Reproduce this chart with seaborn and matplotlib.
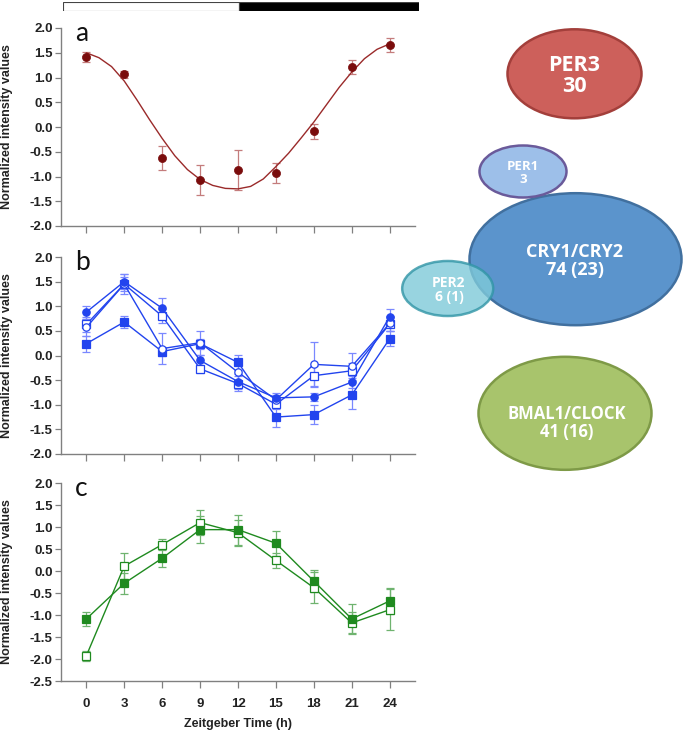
import matplotlib
matplotlib.use('Agg')
import matplotlib.pyplot as plt
import seaborn as sns
from matplotlib.patches import Ellipse

# Zeitgeber time points
zt = [0, 3, 6, 9, 12, 15, 18, 21, 24]

# panel a: PER3
per3_mean = [1.42, 1.07, -0.63, -1.07, -0.87, -0.93, -0.09, 1.22, 1.65]
per3_err = [0.10, 0.07, 0.24, 0.30, 0.40, 0.20, 0.16, 0.14, 0.14]
# fitted curve, hour by hour
fit_t = list(range(0, 25))
fit_y = [1.50, 1.40, 1.22, 0.93, 0.55, 0.15, -0.23, -0.58, -0.86, -1.06, -1.18, -1.24,
         -1.25, -1.20, -1.05, -0.80, -0.53, -0.22, 0.10, 0.45, 0.80, 1.11, 1.38, 1.57, 1.68]

# panel b: CRY1/CRY2 cluster
cry_fc = [0.88, 1.50, 0.96, -0.10, -0.53, -0.86, -0.84, -0.54, 0.79]
cry_fc_err = [0.13, 0.15, 0.20, 0.12, 0.15, 0.10, 0.08, 0.12, 0.15]
cry_oc = [0.57, 1.45, 0.14, 0.26, -0.34, -0.90, -0.18, -0.22, 0.65]
cry_oc_err = [0.18, 0.20, 0.31, 0.24, 0.20, 0.10, 0.45, 0.28, 0.15]
cry_os = [0.63, 1.45, 0.80, -0.27, -0.57, -0.99, -0.41, -0.31, 0.64]
cry_os_err = [0.15, 0.15, 0.15, 0.08, 0.15, 0.10, 0.20, 0.15, 0.15]
cry_fs = [0.24, 0.68, 0.08, 0.24, -0.14, -1.25, -1.20, -0.80, 0.34]
cry_fs_err = [0.16, 0.13, 0.10, 0.10, 0.15, 0.20, 0.20, 0.28, 0.15]

# panel c: BMAL1/CLOCK cluster
bmal_fs = [-1.09, -0.28, 0.29, 0.94, 0.94, 0.63, -0.23, -1.09, -0.68]
bmal_fs_err = [0.16, 0.24, 0.20, 0.30, 0.34, 0.29, 0.25, 0.33, 0.30]
bmal_os = [-1.93, 0.11, 0.60, 1.10, 0.87, 0.24, -0.38, -1.18, -0.88]
bmal_os_err = [0.12, 0.30, 0.12, 0.28, 0.30, 0.18, 0.35, 0.25, 0.47]

# light/dark bar
phase_start = [-1.9, 12]
phase_end = [12, 26.2]
phase_color = ['white', 'black']

# bubbles
bubble_names = ['PER3', 'PER1', 'CRY1/CRY2', 'PER2', 'BMAL1/CLOCK']
bubble_counts = ['30', '3', '74 (23)', '6 (1)', '41 (16)']

sns.set_style('ticks')
plt.rcParams['font.family'] = ['Liberation Sans', 'DejaVu Sans']
plt.rcParams['font.weight'] = 'bold'
plt.rcParams['axes.unicode_minus'] = False

W, H = 685, 734
fig = plt.figure(figsize=(W / 100, H / 100), dpi=100)


def px_axes(left, top, right, bottom):
    return fig.add_axes([left / W, 1 - bottom / H, (right - left) / W, (bottom - top) / H])


ax_a = px_axes(61, 28, 415, 226)
ax_b = px_axes(61, 257, 415, 454)
ax_c = px_axes(61, 483, 415, 681)


def draw_series(ax, y, err, marker, color, ecolor, filled):
    ax.errorbar(zt, y, yerr=err, fmt='none', ecolor=ecolor, elinewidth=0.9,
                capsize=2.6, capthick=0.9, zorder=2)
    sns.lineplot(x=zt, y=y, ax=ax, color=color, lw=1.0, marker=marker, markersize=5.3,
                 markerfacecolor=color if filled else 'white', markeredgecolor=color,
                 markeredgewidth=0.9, zorder=3)


# panel a
ax_a.errorbar(zt, per3_mean, yerr=per3_err, fmt='none', ecolor='#c47c7c',
              elinewidth=0.9, capsize=2.6, capthick=0.9, zorder=2)
sns.lineplot(x=fit_t, y=fit_y, ax=ax_a, color='#9a2a2a', lw=1.0, zorder=3)
sns.scatterplot(x=zt, y=per3_mean, ax=ax_a, color='#7a0c0c', s=34, edgecolor='#7a0c0c',
                linewidth=0.5, zorder=4)

# panel b
blue, blue_err = '#2244ee', '#7a88ff'
draw_series(ax_b, cry_fs, cry_fs_err, 's', blue, blue_err, True)
draw_series(ax_b, cry_os, cry_os_err, 's', blue, blue_err, False)
draw_series(ax_b, cry_oc, cry_oc_err, 'o', blue, blue_err, False)
draw_series(ax_b, cry_fc, cry_fc_err, 'o', blue, blue_err, True)

# panel c
green, green_err = '#1f8a1f', '#6fb36f'
draw_series(ax_c, bmal_os, bmal_os_err, 's', green, green_err, False)
draw_series(ax_c, bmal_fs, bmal_fs_err, 's', green, green_err, True)

ylims = [(-2.0, 2.0), (-2.0, 2.0), (-2.5, 2.0)]
for ax, lim, letter in zip([ax_a, ax_b, ax_c], ylims, ['a', 'b', 'c']):
    ax.set_xlim(-2, 26)
    ax.set_ylim(*lim)
    ax.set_xticks(zt)
    ax.set_yticks([lim[0] + 0.5 * i for i in range(int(round((lim[1] - lim[0]) / 0.5)) + 1)])
    ax.yaxis.set_major_formatter(matplotlib.ticker.FormatStrFormatter('%.1f'))
    sns.despine(ax=ax)
    for side in ['left', 'bottom']:
        ax.spines[side].set_color('#808080')
        ax.spines[side].set_linewidth(1.0)
    ax.tick_params(axis='y', direction='out', length=4, width=0.9, color='#808080',
                   labelsize=9.5, labelcolor='#222222', pad=2)
    ax.tick_params(axis='x', direction='out', length=5, width=0.9, color='#808080',
                   labelsize=9.5, labelcolor='#222222', pad=7)
    ax.set_ylabel('Normalized intensity values', fontsize=9, fontweight='bold', color='#222222')
    ax.yaxis.set_label_coords(-0.135, 0.5)
    ax.set_xlabel('')
    ax.text(0.04, 0.935, letter, transform=ax.transAxes, fontsize=19, family='Lato',
            fontweight='normal', color='#111111', va='baseline')
    ax.set_facecolor('none')

ax_a.tick_params(axis='x', labelbottom=False)
ax_b.tick_params(axis='x', labelbottom=False)
ax_c.set_xlabel('Zeitgeber Time (h)', fontsize=9, fontweight='bold', color='#222222', labelpad=6)

# light/dark bar on top
ax_bar = px_axes(63, 2, 419, 11)
ax_bar.barh([0, 0], [e - s for s, e in zip(phase_start, phase_end)], left=phase_start,
            color=phase_color, edgecolor='#444444', linewidth=0.8, height=1.0)
ax_bar.set_xlim(phase_start[0], phase_end[-1])
ax_bar.set_ylim(-0.5, 0.5)
ax_bar.axis('off')

# bubbles
ax_o = fig.add_axes([0, 0, 1, 1])
ax_o.set_xlim(0, W)
ax_o.set_ylim(H, 0)
ax_o.axis('off')
ax_o.set_facecolor('none')

bubble_xy = [(574.5, 73.8), (523, 171.5), (575.5, 259.2), (447.7, 288.5), (565, 413.3)]
bubble_wh = [(134, 89), (87, 52), (212, 132), (91, 55), (173, 113)]
bubble_face = ['#cd605b', '#9dbfe9', '#5b94cc', '#7fcad9', '#a8c46c']
bubble_edge = ['#a33f3b', '#6a5a9a', '#41709f', '#3195a6', '#7e9a47']
bubble_alpha = [1, 1, 1, 0.8, 1]
text_xy = [(574, 76), (523, 173), (575, 261), (449, 290), (567, 423)]
text_size = [15.5, 9.5, 13, 10, 12]

for i in [0, 2, 1, 3, 4]:
    e = Ellipse(bubble_xy[i], bubble_wh[i][0], bubble_wh[i][1], facecolor=bubble_face[i],
                edgecolor=bubble_edge[i], linewidth=1.8, alpha=bubble_alpha[i])
    ax_o.add_patch(e)
    ax_o.text(text_xy[i][0], text_xy[i][1], bubble_names[i] + '\n' + bubble_counts[i],
              ha='center', va='center', color='white', fontsize=text_size[i],
              family='Open Sans', fontweight='bold', linespacing=1.0)

fig.savefig('out.png', dpi=100)
